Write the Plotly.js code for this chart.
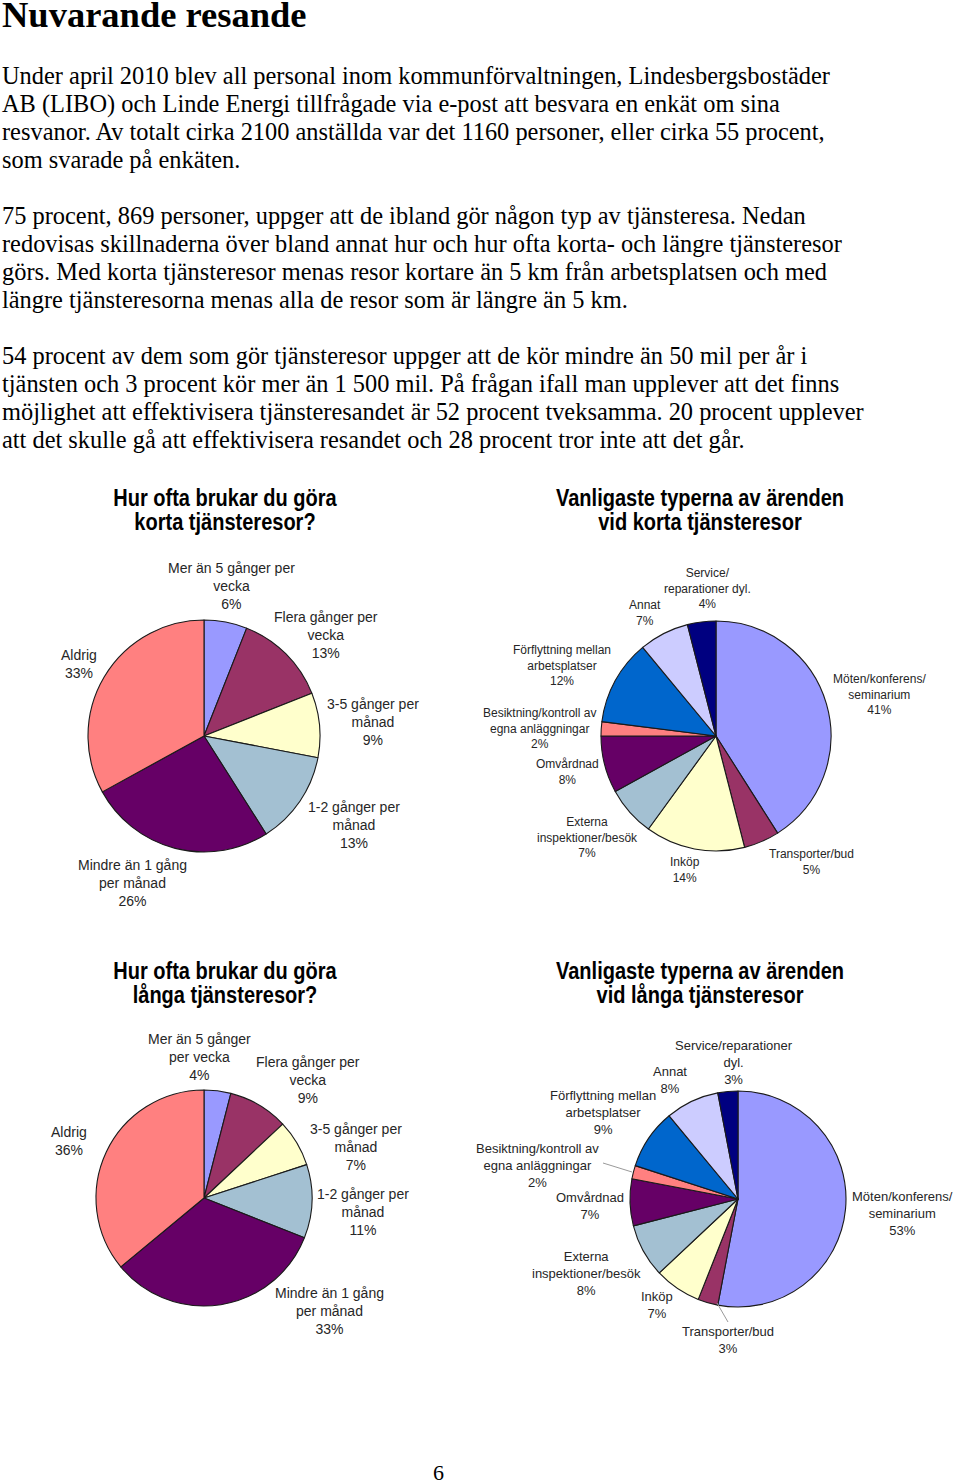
<!DOCTYPE html>
<html>
<head>
<meta charset="utf-8">
<script src="https://cdn.plot.ly/plotly-3.0.1.min.js"></script>
<style>
  html, body { margin: 0; padding: 0; background: #ffffff; }
  body { width: 960px; height: 1483px; position: relative; overflow: hidden; }
  #plot { position: absolute; left: 0; top: 0; width: 960px; height: 1483px; }
  .txt { position: absolute; font-family: "Liberation Serif", "Times New Roman", serif; color: #000; white-space: nowrap; pointer-events: none; }
  #heading { left: 2px; top: 1px; font-size: 36.5px; line-height: 27px; font-weight: bold; }
  #body { left: 2px; top: 61.8px; font-size: 24.4px; line-height: 28px; }
  #pagenum { left: 433px; top: 1458.6px; font-size: 22px; line-height: 28px; }
  .ctitle { position: absolute; width: 400px; text-align: center; white-space: nowrap; pointer-events: none;
            font-family: "Liberation Sans", Arial, sans-serif; font-weight: bold; font-size: 23px; line-height: 24px; color: #000;
            transform: scaleX(0.87); transform-origin: 50% 50%; }
</style>
</head>
<body>
<div id="plot"></div>
<div class="txt" id="heading">Nuvarande resande</div>
<div class="txt" id="body">Under april 2010 blev all personal inom kommunförvaltningen, Lindesbergsbostäder<br>AB (LIBO) och Linde Energi tillfrågade via e-post att besvara en enkät om sina<br>resvanor. Av totalt cirka 2100 anställda var det 1160 personer, eller cirka 55 procent,<br>som svarade på enkäten.<br><br>75 procent, 869 personer, uppger att de ibland gör någon typ av tjänsteresa. Nedan<br>redovisas skillnaderna över bland annat hur och hur ofta korta- och längre tjänsteresor<br>görs. Med korta tjänsteresor menas resor kortare än 5 km från arbetsplatsen och med<br>längre tjänsteresorna menas alla de resor som är längre än 5 km.<br><br>54 procent av dem som gör tjänsteresor uppger att de kör mindre än 50 mil per år i<br>tjänsten och 3 procent kör mer än 1 500 mil. På frågan ifall man upplever att det finns<br>möjlighet att effektivisera tjänsteresandet är 52 procent tveksamma. 20 procent upplever<br>att det skulle gå att effektivisera resandet och 28 procent tror inte att det går.</div>
<div class="txt" id="pagenum">6</div>
<div id="titles"></div>
<script>
// ---------- DATA ----------
const freqCategories = ['Mer än 5 gånger per vecka', 'Flera gånger per vecka', '3-5 gånger per månad', '1-2 gånger per månad', 'Mindre än 1 gång per månad', 'Aldrig'];
const shortTripFrequency = [6, 13, 9, 13, 26, 33];
const longTripFrequency = [4, 9, 7, 11, 33, 36];

const errandCategories = ['Möten/konferens/seminarium', 'Transporter/bud', 'Inköp', 'Externa inspektioner/besök', 'Omvårdnad', 'Besiktning/kontroll av egna anläggningar', 'Förflyttning mellan arbetsplatser', 'Annat', 'Service/reparationer dyl.'];
const shortTripErrands = [41, 5, 14, 7, 8, 2, 12, 7, 4];
const longTripErrands = [53, 3, 7, 8, 7, 2, 9, 8, 3];

// wrapped label texts as printed next to each pie
const shortFreqLabelText = ['Mer än 5 gånger per<br>vecka', 'Flera gånger per<br>vecka', '3-5 gånger per<br>månad', '1-2 gånger per<br>månad', 'Mindre än 1 gång<br>per månad', 'Aldrig'];
const longFreqLabelText = ['Mer än 5 gånger<br>per vecka', 'Flera gånger per<br>vecka', '3-5 gånger per<br>månad', '1-2 gånger per<br>månad', 'Mindre än 1 gång<br>per månad', 'Aldrig'];
const shortErrandLabelText = ['Möten/konferens/<br>seminarium', 'Transporter/bud', 'Inköp', 'Externa<br>inspektioner/besök', 'Omvårdnad', 'Besiktning/kontroll av<br>egna anläggningar', 'Förflyttning mellan<br>arbetsplatser', 'Annat', 'Service/<br>reparationer dyl.'];
const longErrandLabelText = ['Möten/konferens/<br>seminarium', 'Transporter/bud', 'Inköp', 'Externa<br>inspektioner/besök', 'Omvårdnad', 'Besiktning/kontroll av<br>egna anläggningar', 'Förflyttning mellan<br>arbetsplatser', 'Annat', 'Service/reparationer<br>dyl.'];

const chartTitles = [
  ['Hur ofta brukar du göra', 'korta tjänsteresor?'],
  ['Vanligaste typerna av ärenden', 'vid korta tjänsteresor'],
  ['Hur ofta brukar du göra', 'långa tjänsteresor?'],
  ['Vanligaste typerna av ärenden', 'vid långa tjänsteresor']
];

// ---------- STYLE / LAYOUT ----------
const W = 960, H = 1483;
const palette = ['#9999FF', '#993366', '#FFFFCC', '#A3C0D2', '#660066', '#FF8080', '#0066CC', '#CCCCFF', '#000080'];
const fx = px => px / W;
const fy = py => 1 - py / H;

const pies = [
  { values: shortTripFrequency, labels: freqCategories, text: shortFreqLabelText, cx: 204, cy: 736, r: 116, fs: 14,
    pos: [[231, 586], [326, 635], [373, 722], [354, 825], [132, 883], [79, 664]], title: chartTitles[0], tx: 225, ttop: 486 },
  { values: shortTripErrands, labels: errandCategories, text: shortErrandLabelText, cx: 716, cy: 736, r: 115, fs: 12,
    pos: [[879, 694], [811, 862], [685, 870], [587, 837], [567, 772], [539, 728], [562, 665], [645, 613], [707, 588]], title: chartTitles[1], tx: 699.5, ttop: 486 },
  { values: longTripFrequency, labels: freqCategories, text: longFreqLabelText, cx: 204, cy: 1198, r: 108, fs: 14,
    pos: [[199, 1057], [308, 1080], [356, 1147], [363, 1212], [329, 1311], [69, 1141]], title: chartTitles[2], tx: 225, ttop: 959 },
  { values: longTripErrands, labels: errandCategories, text: longErrandLabelText, cx: 738, cy: 1199, r: 108, fs: 13,
    pos: [[902, 1213], [728, 1340], [657, 1305], [586, 1273], [590, 1206], [537, 1165], [603, 1112], [670, 1080], [734, 1062]], title: chartTitles[3], tx: 699.5, ttop: 959 }
];

const traces = [];
const annotations = [];
const titleBox = document.getElementById('titles');
pies.forEach(p => {
  traces.push({
    type: 'pie',
    values: p.values,
    labels: p.labels,
    sort: false,
    direction: 'clockwise',
    rotation: 0,
    textinfo: 'none',
    hoverinfo: 'label+percent',
    showlegend: false,
    marker: { colors: palette.slice(0, p.values.length), line: { color: '#1a1a1a', width: 1.1 } },
    domain: { x: [fx(p.cx - p.r), fx(p.cx + p.r)], y: [fy(p.cy + p.r), fy(p.cy - p.r)] }
  });
  p.values.forEach((v, i) => {
    annotations.push({
      xref: 'paper', yref: 'paper', x: fx(p.pos[i][0]), y: fy(p.pos[i][1]),
      xanchor: 'center', yanchor: 'middle', showarrow: false, align: 'center',
      text: p.text[i] + '<br>' + v + '%',
      font: { family: 'Liberation Sans, Arial, sans-serif', size: p.fs, color: '#262626' }
    });
  });
  const d = document.createElement('div');
  d.className = 'ctitle';
  d.style.left = (p.tx - 200) + 'px';
  d.style.top = p.ttop + 'px';
  d.innerHTML = p.title.join('<br>');
  titleBox.appendChild(d);
});

// leader lines for the two small slices of the last pie
const leader = (x0, y0, x1, y1) => ({ type: 'line', xref: 'paper', yref: 'paper', x0: fx(x0), y0: fy(y0), x1: fx(x1), y1: fy(y1), line: { color: '#9a9a9a', width: 1 } });
const shapes = [leader(603, 1163, 632, 1172), leader(717, 1303, 728, 1322)];

Plotly.newPlot('plot', traces, {
  width: W, height: H,
  margin: { l: 0, r: 0, t: 0, b: 0 },
  paper_bgcolor: 'rgba(0,0,0,0)', plot_bgcolor: 'rgba(0,0,0,0)',
  annotations: annotations,
  shapes: shapes
}, { staticPlot: true });
</script>
</body>
</html>
